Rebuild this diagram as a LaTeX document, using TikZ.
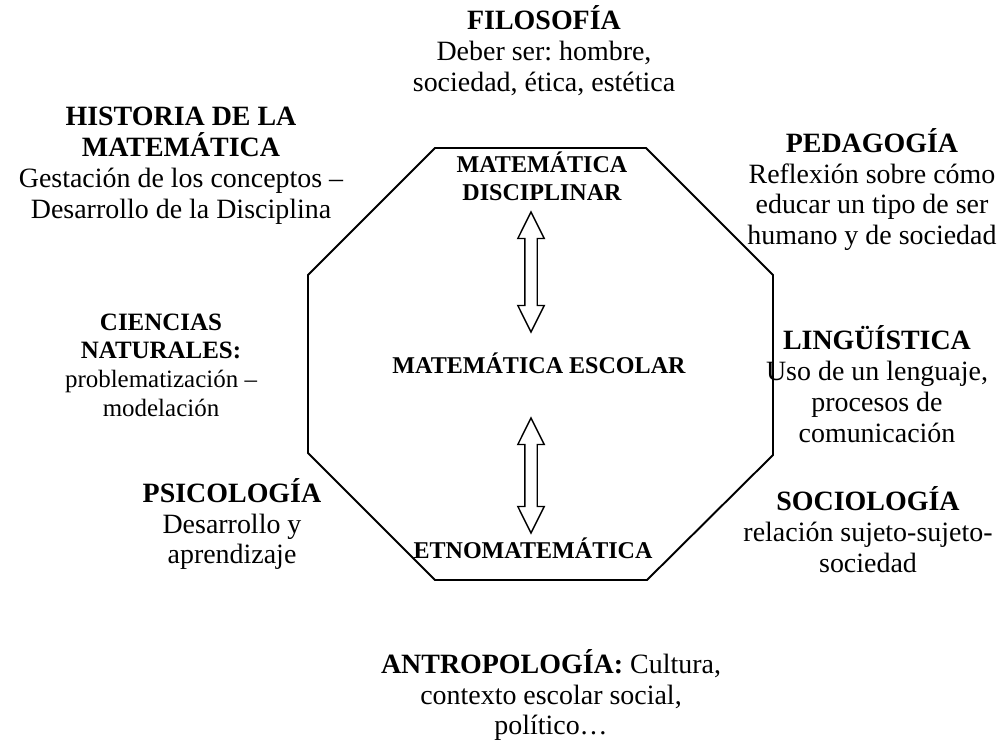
\documentclass[tikz,border=0pt]{standalone}
\usepackage{fontspec}
\setmainfont{Liberation Serif}
\usetikzlibrary{shapes.arrows}
\frenchspacing

\begin{document}
\begin{tikzpicture}[
    every node/.style = {align=center, inner sep=0pt},
    area/.style = {font=\fontsize{15.9}{17.6}\selectfont},
    areasmall/.style = {font=\fontsize{14.2}{16.3}\selectfont},
    core/.style = {font=\bfseries\fontsize{13.7}{15.9}\selectfont},
    link/.style = {draw, double arrow, rotate=90, line width=0.8pt,
    text height=0.11cm, text depth=0.11cm, double arrow head extend=0.14cm,
    double arrow tip angle=53, double arrow head indent=0pt}]
    \useasboundingbox (0, 0) rectangle (20.12, -14.84);
    % octagon
    \draw[line width=1.1pt] (8.70, -2.96) -- (12.92, -2.96) -- (15.46, -5.50)
        -- (15.46, -9.10) -- (12.94, -11.60) -- (8.70, -11.60)
        -- (6.16, -9.06) -- (6.16, -5.50) -- cycle;
    % inside
    \node[core] (disc) at (10.84, -3.52) {MATEMÁTICA\\DISCIPLINAR};
    \node[core] (esc) at (10.78, -7.26) {MATEMÁTICA ESCOLAR};
    \node[core] (etno) at (10.66, -10.96) {ETNOMATEMÁTICA};
    \node[link, minimum height=2.4cm] (arrowTop) at (10.62, -5.44) {};
    \node[link, minimum height=2.3cm] (arrowBottom) at (10.62, -9.51) {};
    % around
    \node[area] (filo) at (10.88, -1.01)
        {\textbf{FILOSOFÍA}\\Deber ser: hombre,\\sociedad, ética, estética};
    \node[area] (hist) at (3.62, -3.31)
        {\textbf{HISTORIA DE LA}\\\textbf{MATEMÁTICA}\\Gestación de los conceptos --\\Desarrollo de la Disciplina};
    \node[area] (peda) at (17.44, -3.79)
        {\textbf{PEDAGOGÍA}\\Reflexión sobre cómo\\educar un tipo de ser\\humano y de sociedad};
    \node[areasmall] (cien) at (3.22, -7.30)
        {\textbf{CIENCIAS}\\\textbf{NATURALES:}\\problematización --\\modelación};
    \node[area] (ling) at (17.54, -7.69)
        {\textbf{LINGÜÍSTICA}\\Uso de un lenguaje,\\procesos de\\comunicación};
    \node[area] (psic) at (4.64, -10.48)
        {\textbf{PSICOLOGÍA}\\Desarrollo y\\aprendizaje};
    \node[area] (soci) at (17.36, -10.60)
        {\textbf{SOCIOLOGÍA}\\relación sujeto-sujeto-\\sociedad};
    \node[area] (antro) at (11.02, -13.90)
        {\textbf{ANTROPOLOGÍA:} Cultura,\\contexto escolar social,\\político\ldots};
\end{tikzpicture}
\end{document}
